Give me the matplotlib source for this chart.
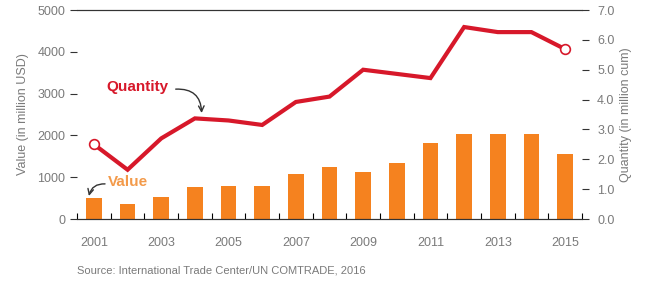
import numpy as np
import matplotlib.pyplot as plt

plt.rcParams['font.family'] = ['Liberation Sans', 'DejaVu Sans']

# Data
years = list(range(2001, 2016))
value_musd = [500, 350, 520, 770, 800, 800, 1080, 1250, 1120, 1330, 1830, 2040, 2030, 2030, 1550]
quantity_mcum = [2.5, 1.65, 2.7, 3.37, 3.3, 3.15, 3.92, 4.1, 5.0, 4.86, 4.72, 6.43, 6.26, 6.26, 5.69]
year_labels = [str(y) for y in years[::2]]

orange = '#F5821F'
red = '#D7182A'
grey = '#7a7a7a'

fig = plt.figure(figsize=(6.59, 2.82), dpi=100)
ax = fig.add_axes([0.117, 0.2234, 0.766, 0.7411])
ax2 = ax.twinx()

ax.bar(years, value_musd, width=0.47, color=orange, zorder=2)
ax.set_xlim(2000.5, 2015.5)
ax.set_ylim(0, 5000)
ax.set_yticks(np.arange(0, 5001, 1000))
ax.set_xticks(years[::2])
ax.set_xticklabels(year_labels)
ax.set_xticks(np.arange(2000.5, 2015.6, 1), minor=True)
ax.tick_params(axis='x', which='major', length=0, pad=13, labelsize=9, labelcolor=grey)
ax.tick_params(axis='x', which='minor', direction='in', length=4, width=0.8)
ax.tick_params(axis='y', length=5, width=0.8, color='#333333', labelsize=9, labelcolor=grey)
ax.set_ylabel('Value (in million USD)', color=grey, fontsize=9, labelpad=6)

ax2.plot(years, quantity_mcum, color=red, lw=3, zorder=3, solid_joinstyle='miter')
ax2.plot([years[0], years[-1]], [quantity_mcum[0], quantity_mcum[-1]], 'o', ms=7,
         mfc='white', mec=red, mew=1.2, zorder=4)
ax2.set_ylim(0, 7)
ax2.set_yticks(np.arange(0, 7.1, 1))
ax2.set_yticklabels([f'{v:.1f}' for v in np.arange(0, 7.1, 1)])
ax2.tick_params(axis='y', length=5, width=0.8, color='#333333', labelsize=9, labelcolor=grey, pad=6)
ax2.set_ylabel('Quantity (in million cum)', color=grey, fontsize=9)

for a in (ax, ax2):
    a.spines['left'].set_visible(False)
    a.spines['right'].set_visible(False)
    a.spines['top'].set_color('#333333')
    a.spines['top'].set_linewidth(0.8)
    a.spines['bottom'].set_color('#333333')
    a.spines['bottom'].set_linewidth(0.8)

# annotations
ax2.text(2002.3, 4.42, 'Quantity', color=red, fontsize=11, fontweight='bold',
         ha='center', va='center')
ax2.annotate('', xy=(2004.2, 3.55), xytext=(2003.43, 4.35),
             arrowprops=dict(arrowstyle='->', color='#333333', lw=1,
                             connectionstyle='arc3,rad=-0.5',
                             shrinkA=0, shrinkB=0))
ax.text(2002.0, 880, 'Value', color='#F39A4A', fontsize=11, fontweight='bold',
        ha='center', va='center')
ax.annotate('', xy=(2000.85, 550), xytext=(2001.33, 840),
            arrowprops=dict(arrowstyle='->', color='#333333', lw=1,
                            connectionstyle='arc3,rad=0.4',
                            shrinkA=0, shrinkB=0))

fig.text(0.117, 0.03, 'Source: International Trade Center/UN COMTRADE, 2016',
         color=grey, fontsize=8)

fig.savefig('out.png', dpi=100)
